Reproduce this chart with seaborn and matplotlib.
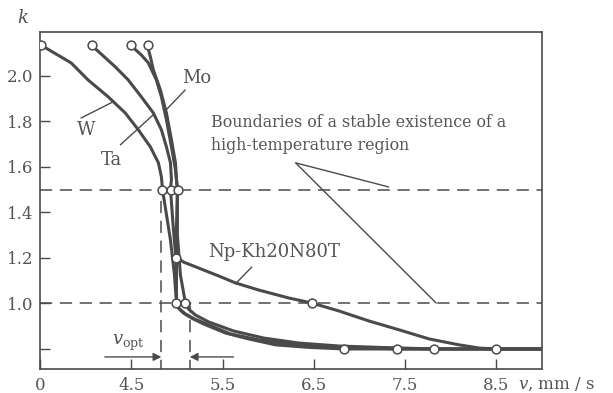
import numpy as np
import pandas as pd
import matplotlib
matplotlib.use("Agg")
import matplotlib.pyplot as plt
import seaborn as sns

# ---- data (x positions on the broken axis: 3.5 is labelled "0") ----
w_v = [3.508, 3.841, 4.027, 4.247, 4.434, 4.577, 4.709, 4.797, 4.830, 4.841,
       4.929, 4.973, 4.995, 5.016, 5.071, 5.159, 5.291, 5.533, 5.786, 6.082, 6.445, 6.830, 9.0]
w_k = [2.136, 2.057, 1.982, 1.908, 1.837, 1.763, 1.688, 1.618, 1.556, 1.503,
       1.279, 1.125, 1.002, 0.980, 0.958, 0.936, 0.910, 0.870, 0.844, 0.818, 0.807, 0.800, 0.800]

ta_v = [4.071, 4.324, 4.467, 4.610, 4.742, 4.830, 4.885, 4.929, 4.940, 4.929,
        4.962, 4.995, 4.995, 5.027, 5.093, 5.192, 5.346, 5.588, 5.896, 6.225, 6.555, 6.885, 7.412, 9.0]
ta_k = [2.132, 2.040, 1.982, 1.908, 1.837, 1.763, 1.688, 1.618, 1.543, 1.503,
        1.323, 1.169, 1.002, 0.976, 0.954, 0.932, 0.906, 0.866, 0.840, 0.822, 0.811, 0.807, 0.800, 0.800]

mo_v = [4.500, 4.610, 4.687, 4.775, 4.830, 4.885, 4.940, 4.984, 5.005,
        5.005, 5.038, 5.093, 5.126, 5.203, 5.346, 5.621, 5.951, 6.335, 6.775, 7.214, 7.819, 9.0]
mo_k = [2.132, 2.092, 2.057, 1.982, 1.908, 1.807, 1.688, 1.587, 1.503,
        1.301, 1.125, 1.002, 0.976, 0.949, 0.919, 0.879, 0.848, 0.826, 0.813, 0.807, 0.800, 0.800]

np_v = [4.676, 4.709, 4.742, 4.819, 4.885, 4.940, 4.984, 4.995, 5.005, 4.995, 4.995,
        5.071, 5.236, 5.456, 5.643, 5.896, 6.225, 6.478, 6.775, 7.104, 7.434, 7.764,
        8.093, 8.313, 8.500, 9.0]
np_k = [2.132, 2.084, 2.026, 1.938, 1.837, 1.719, 1.618, 1.543, 1.503, 1.323, 1.204,
        1.182, 1.156, 1.121, 1.090, 1.059, 1.024, 1.002, 0.967, 0.923, 0.884, 0.844,
        0.818, 0.804, 0.800, 0.800]

series_names = ["W", "Ta", "Mo", "Np-Kh20N80T"]

marker_v = [3.51, 4.07, 4.50, 4.68, 4.84, 4.93, 5.01, 4.99, 4.99, 5.09, 6.48, 6.83, 7.41, 7.82, 8.50]
marker_k = [2.135, 2.135, 2.135, 2.135, 1.50, 1.50, 1.50, 1.20, 1.00, 1.00, 1.00, 0.80, 0.80, 0.80, 0.80]

boundary_k = [1.5, 1.0]
v_opt_bounds = [4.83, 5.14]

x_ticks = [3.5, 4.5, 5.5, 6.5, 7.5, 8.5]
x_tick_labels = ["0", "4.5", "5.5", "6.5", "7.5", "8.5"]
y_ticks = [0.8, 1.0, 1.2, 1.4, 1.6, 1.8, 2.0]
y_tick_labels = ["", "1.0", "1.2", "1.4", "1.6", "1.8", "2.0"]

# ---- styling ----
sns.set_theme(style="ticks")
plt.rcParams["font.family"] = ["DejaVu Serif"]
plt.rcParams["mathtext.fontset"] = "dejavuserif"
plt.rcParams["lines.solid_joinstyle"] = "round"
plt.rcParams["lines.solid_capstyle"] = "round"

LINE = "#4a4a4a"
TEXT = "#555555"

frames = []
for name, vv, kk in zip(series_names, [w_v, ta_v, mo_v, np_v], [w_k, ta_k, mo_k, np_k]):
    frames.append(pd.DataFrame({"v": vv, "k": kk, "material": name}))
df = pd.concat(frames, ignore_index=True)

fig = plt.figure(figsize=(6.13, 3.93), dpi=100)
fig.patch.set_facecolor("white")
ax = fig.add_axes([0.0653, 0.0611, 0.8189, 0.8575])
ax.set_facecolor("white")

# dashed boundaries
for kb in boundary_k:
    ax.axhline(kb, color=LINE, lw=1.1, dashes=(8, 5), zorder=1)
ax.plot([v_opt_bounds[0]] * 2, [0.70, boundary_k[0]], color=LINE, lw=1.1, dashes=(8, 5), zorder=1)
ax.plot([v_opt_bounds[1]] * 2, [0.70, boundary_k[1]], color=LINE, lw=1.1, dashes=(8, 5), zorder=1)

sns.lineplot(data=df, x="v", y="k", hue="material", estimator=None, sort=False,
             palette=[LINE] * 4, lw=2.2, legend=False, ax=ax, zorder=2)

sns.scatterplot(x=marker_v, y=marker_k, ax=ax, s=40, color="white", edgecolor=LINE,
                linewidth=1.1, zorder=4, legend=False)

ax.set_xlim(3.5, 9.0)
ax.set_ylim(0.712, 2.193)
ax.set_xticks(x_ticks)
ax.set_xticklabels(x_tick_labels)
ax.set_yticks(y_ticks)
ax.set_yticklabels(y_tick_labels)
ax.tick_params(direction="in", length=7, width=1.0, color=LINE, labelcolor=TEXT, labelsize=12)
ax.tick_params(axis="x", pad=6)
ax.tick_params(axis="y", pad=5)
for sp in ax.spines.values():
    sp.set_visible(True)
    sp.set_color(LINE)
    sp.set_linewidth(1.2)
ax.set_xlabel("")
ax.set_ylabel("")

# axis titles
ax.text(-0.034, 1.042, "k", transform=ax.transAxes, fontsize=13, style="italic",
        color=TEXT, ha="center", va="center")
ax.text(0.952, -0.047, r"$v$, mm / s", transform=ax.transAxes, fontsize=12,
        color=TEXT, ha="left", va="center")

# labels and leaders
lw_lead = 1.0
ax.text(4.005, 1.763, "W", fontsize=13, color=TEXT, ha="center", va="center")
ax.plot([3.95, 4.30], [1.815, 1.886], color=LINE, lw=lw_lead)
ax.text(4.28, 1.63, "Ta", fontsize=13, color=TEXT, ha="center", va="center")
ax.plot([4.38, 4.74], [1.697, 1.829], color=LINE, lw=lw_lead)
ax.text(5.22, 1.99, "Mo", fontsize=13, color=TEXT, ha="center", va="center")
ax.plot([5.09, 4.88], [1.938, 1.85], color=LINE, lw=lw_lead)
ax.text(6.06, 1.226, "Np-Kh20N80T", fontsize=13, color=TEXT, ha="center", va="center")
ax.plot([5.82, 5.64], [1.16, 1.086], color=LINE, lw=lw_lead)
ax.text(5.37, 1.745, "Boundaries of a stable existence of a\nhigh-temperature region",
        fontsize=11.4, color=TEXT, ha="left", va="center", linespacing=1.4)
ax.plot([7.32, 6.30, 7.84], [1.512, 1.618, 1.002], color=LINE, lw=lw_lead)

# v_opt arrows
ax.annotate("", xy=(v_opt_bounds[0], 0.765), xytext=(4.21, 0.765),
            arrowprops=dict(arrowstyle="-|>", color=LINE, lw=1.0, mutation_scale=12,
                            shrinkA=0, shrinkB=0))
ax.annotate("", xy=(v_opt_bounds[1], 0.765), xytext=(5.62, 0.765),
            arrowprops=dict(arrowstyle="-|>", color=LINE, lw=1.0, mutation_scale=12,
                            shrinkA=0, shrinkB=0))
ax.text(4.47, 0.826, r"$v_{\rm opt}$", fontsize=13, color=TEXT, ha="center", va="center")

fig.savefig("out.png", dpi=100, facecolor="white")
